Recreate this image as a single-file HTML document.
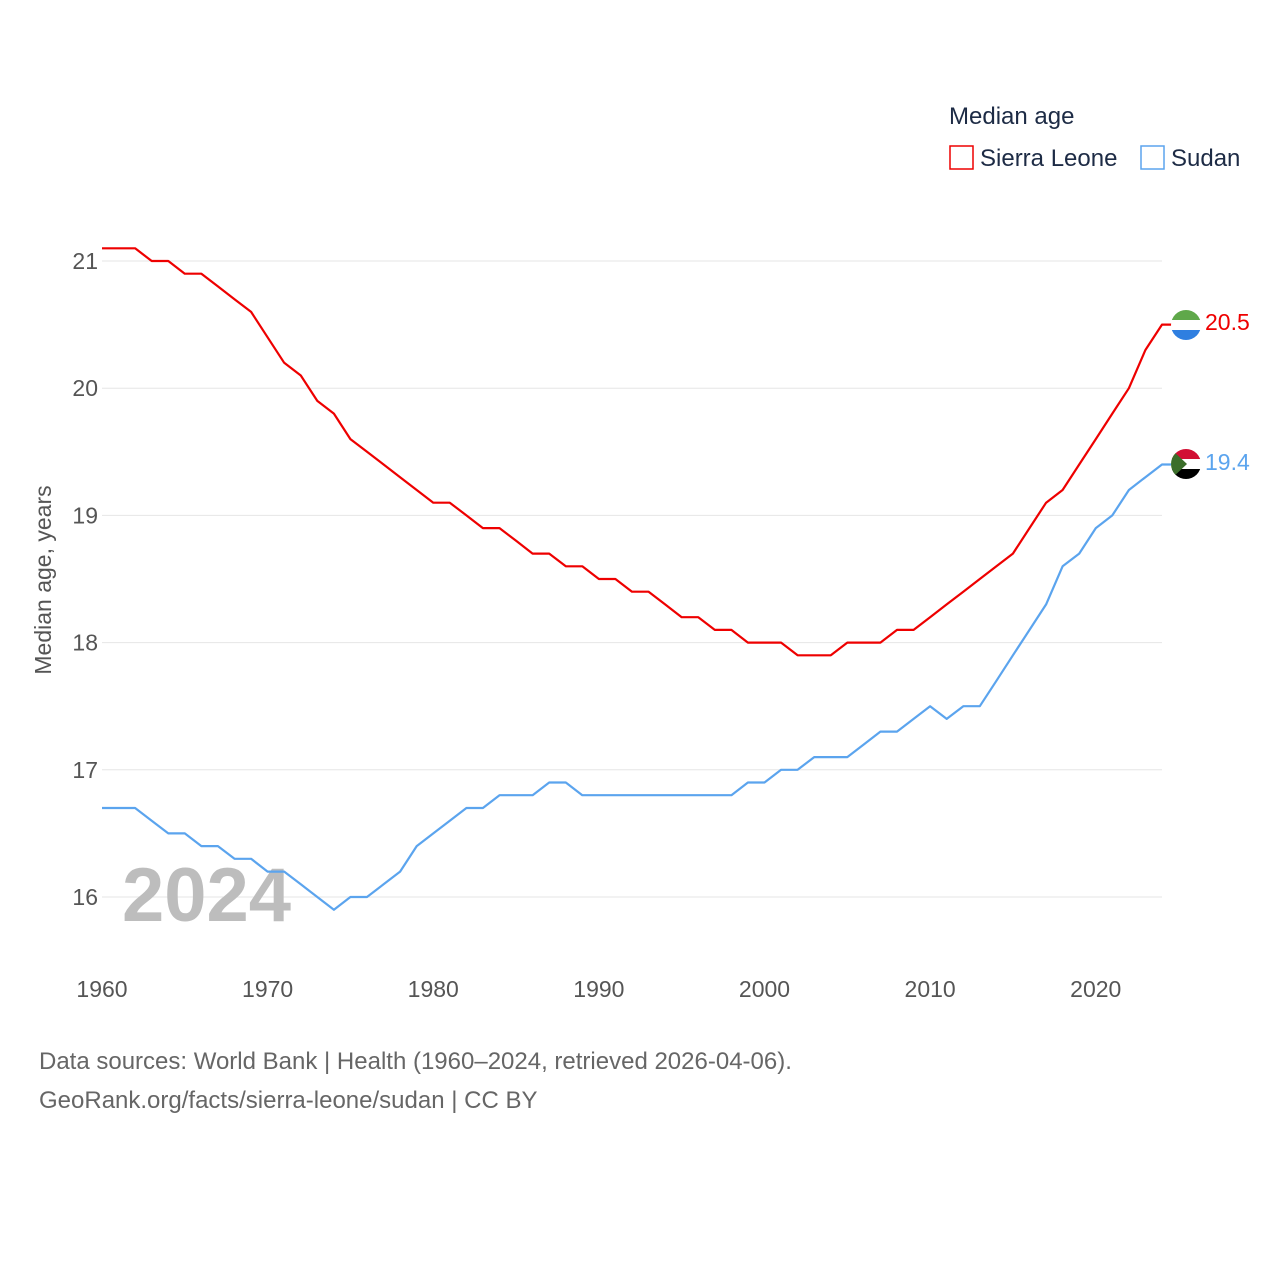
<!DOCTYPE html>
<html><head><meta charset="utf-8"><style>
body{margin:0;background:#fff;font-family:"Liberation Sans",sans-serif;}
svg text{font-family:"Liberation Sans",sans-serif;}
</style></head><body>
<svg width="1280" height="1280" viewBox="0 0 1280 1280">
<defs>
<clipPath id="c1"><circle cx="1186" cy="325" r="15"/></clipPath>
<clipPath id="c2"><circle cx="1186" cy="464" r="15"/></clipPath>
</defs>
<g id="grid"></g>
<g id="yticks"></g>
<g id="xticks"></g>
<text x="51" y="580" transform="rotate(-90 51 580)" text-anchor="middle" font-size="23" fill="#555">Median age, years</text>
<text x="122" y="921" font-size="76" font-weight="bold" fill="#bdbdbd">2024</text>
<g id="lines"></g>
<g clip-path="url(#c1)">
<rect x="1170" y="309" width="32" height="11" fill="#5fa84a"/><rect x="1170" y="320" width="32" height="10" fill="#fff"/><rect x="1170" y="330" width="32" height="11" fill="#2f7fe0"/></g>
<g clip-path="url(#c2)">
<rect x="1170" y="448" width="32" height="11" fill="#d21034"/><rect x="1170" y="459" width="32" height="10" fill="#fff"/><rect x="1170" y="469" width="32" height="11" fill="#000"/><polygon points="1170,448 1187,464 1170,480" fill="#3b6e2a"/></g>
<text x="1205" y="330" font-size="23" fill="#e00">20.5</text>
<text x="1205" y="470" font-size="23" fill="#5ba4ee">19.4</text>
<g>
<text x="949" y="124" font-size="24" fill="#1d2b45">Median age</text>
<g><rect x="950" y="146" width="23" height="23" fill="none" stroke="#e00" stroke-width="1.5"/><text x="980" y="166" font-size="24" fill="#1d2b45">Sierra Leone</text></g>
<g><rect x="1141" y="146" width="23" height="23" fill="none" stroke="#5ba4ee" stroke-width="1.5"/><text x="1171" y="166" font-size="24" fill="#1d2b45">Sudan</text></g>
</g>
<text x="39" y="1069" font-size="24" fill="#666">Data sources: World Bank | Health (1960–2024, retrieved 2026-04-06).</text>
<text x="39" y="1108" font-size="24" fill="#666">GeoRank.org/facts/sierra-leone/sudan | CC BY</text>
</svg>
<script>
const years=[];for(let y=1960;y<=2024;y++)years.push(y);
const sierraLeone=[21.1,21.1,21.1,21.0,21.0,20.9,20.9,20.8,20.7,20.6,20.4,20.2,20.1,19.9,19.8,19.6,19.5,19.4,19.3,19.2,19.1,19.1,19.0,18.9,18.9,18.8,18.7,18.7,18.6,18.6,18.5,18.5,18.4,18.4,18.3,18.2,18.2,18.1,18.1,18.0,18.0,18.0,17.9,17.9,17.9,18.0,18.0,18.0,18.1,18.1,18.2,18.3,18.4,18.5,18.6,18.7,18.9,19.1,19.2,19.4,19.6,19.8,20.0,20.3,20.5];
const sudan=[16.7,16.7,16.7,16.6,16.5,16.5,16.4,16.4,16.3,16.3,16.2,16.2,16.1,16.0,15.9,16.0,16.0,16.1,16.2,16.4,16.5,16.6,16.7,16.7,16.8,16.8,16.8,16.9,16.9,16.8,16.8,16.8,16.8,16.8,16.8,16.8,16.8,16.8,16.8,16.9,16.9,17.0,17.0,17.1,17.1,17.1,17.2,17.3,17.3,17.4,17.5,17.4,17.5,17.5,17.7,17.9,18.1,18.3,18.6,18.7,18.9,19.0,19.2,19.3,19.4];
const yTicks=[16,17,18,19,20,21];
const xTicks=[1960,1970,1980,1990,2000,2010,2020];
const X=y=>102+(y-1960)*(1162-102)/64;
const Y=v=>897-(v-16)*(897-261)/5;
const NS='http://www.w3.org/2000/svg';
function mk(t,a,p){const e=document.createElementNS(NS,t);for(const k in a)e.setAttribute(k,a[k]);p.appendChild(e);return e;}
const grid=document.getElementById('grid'),yt=document.getElementById('yticks'),xt=document.getElementById('xticks'),ln=document.getElementById('lines');
yTicks.forEach(v=>{
const l=mk('line',{x1:102,x2:1162,y1:Y(v),y2:Y(v),stroke:'#e6e6e6','stroke-width':1},grid);


const t=mk('text',{x:98,y:Y(v)+8,'text-anchor':'end','font-size':23,fill:'#555'},yt);t.textContent=v;


});
xTicks.forEach(v=>{
const t=mk('text',{x:X(v),y:997,'text-anchor':'middle','font-size':23,fill:'#555'},xt);t.textContent=v;


});
function line(vals,col,name){
let d=vals.map((v,i)=>(i?'L':'M')+X(years[i]).toFixed(1)+','+Y(v).toFixed(1)).join('');
d+='L1172,'+Y(vals[vals.length-1]).toFixed(1);
const p=mk('path',{d:d,fill:'none',stroke:col,'stroke-width':2.2,'stroke-linejoin':'round'},ln);


}
line(sudan,'#5ba4ee','line-sudan');
line(sierraLeone,'#e00','line-sierra-leone');
</script>
</body></html>
